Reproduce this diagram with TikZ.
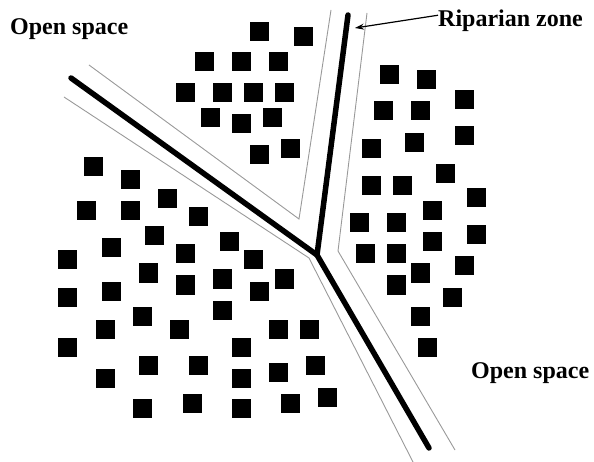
\documentclass[tikz,border=0pt]{standalone}
\usepackage{fontspec}
\setmainfont{Liberation Serif}
\usetikzlibrary{arrows.meta}
\begin{document}
\begin{tikzpicture}[x=1pt,y=-1pt,
  lot/.style={fill=black,draw=none},
  river/.style={line width=5.5pt,line cap=round,line join=round},
  buffer/.style={draw=black!40,line width=0.9pt,line join=miter},
  lbl/.style={font=\fontsize{24}{28}\selectfont\bfseries,inner sep=0pt,anchor=base west},
  pointer/.style={line width=1.2pt,-{Stealth[length=9pt,width=6pt]}}]
\useasboundingbox (0,0) rectangle (594,462);
% riparian buffer edges
\draw[buffer] (89,65) -- (299,219) -- (331,10);
\draw[buffer] (367,13) -- (338,251) -- (455,450);
\draw[buffer] (64,97) -- (309,258) -- (413,462);
% stream
\coordinate (J) at (317,255);
\coordinate (nw) at (71,78);
\coordinate (n) at (348,15);
\coordinate (se) at (429,448);
\draw[river] (nw) -- (J) -- (se);
\draw[river] (n) -- (J);
% lots
\foreach \x/\y in {
 259.5/31.5, 303/37, 204/62, 241/62, 278/62, 185/93, 222/93, 253/93, 284/93,
 210/118, 241/124, 272/118, 259.5/155, 290.5/148.5,
 389.5/74.5, 426/80, 464/99.5, 383/111, 420/111, 464/136, 414/143, 371/149,
 445.5/174, 371/186, 402/186, 476.5/198, 432/211, 359/223, 396/223, 476.5/235,
 432/242, 365/254, 396/254, 464/266, 420/273, 396/285, 452/297, 420/316, 427/347,
 93/167, 130/180, 167/199, 86/211, 130/211, 198/217, 154/236, 229/242, 111/248,
 67.5/260, 185/254, 253/260, 148.5/273, 185/285, 222/279, 284/279, 67.5/297,
 111/291, 259.5/291, 142/316, 222/310, 105/329, 179/329, 278/329, 309/329,
 67.5/347, 241/347, 148.5/365, 198/365, 105/378, 241/378, 278/372, 315.5/365,
 142/408, 192/403, 241/408, 290/403, 327/397}
 \fill[lot] (\x-9.5,\y-9.5) rectangle (\x+9.5,\y+9.5);
% labels
\node[lbl] (os1) at (10,35) {Open space};
\node[lbl] (rip) at (438,27) {Riparian zone};
\node[lbl] (os2) at (471,378) {Open space};
\coordinate (tip) at (355,28);
\draw[pointer] ([yshift=6pt]rip.west) -- (tip);
\end{tikzpicture}
\end{document}
